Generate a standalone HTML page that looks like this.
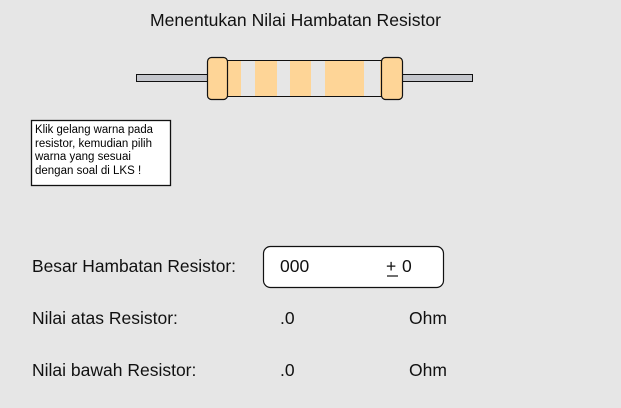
<!DOCTYPE html>
<html><head><meta charset="utf-8"><style>
html,body{margin:0;padding:0;background:#e6e6e6;}
svg{display:block;font-family:"Liberation Sans",Arial,sans-serif;}
</style></head><body>
<svg width="621" height="408" viewBox="0 0 621 408" xmlns="http://www.w3.org/2000/svg">
<rect width="621" height="408" fill="#e6e6e6"/>
<text x="150" y="26" font-size="17.5" textLength="291" lengthAdjust="spacingAndGlyphs" fill="#111">Menentukan Nilai Hambatan Resistor</text>
<!-- leads -->
<rect x="136.5" y="74.5" width="72" height="7" fill="#c4c6cc" stroke="#111" stroke-width="1"/>
<rect x="401.5" y="74.5" width="71" height="7" fill="#c4c6cc" stroke="#111" stroke-width="1"/>
<!-- body -->
<rect x="225.5" y="60.5" width="158" height="36" fill="#fed597" stroke="#111" stroke-width="1"/>
<rect x="241" y="61" width="14" height="35" fill="#e6e6e6"/>
<rect x="277" y="61" width="13" height="35" fill="#e6e6e6"/>
<rect x="311" y="61" width="14" height="35" fill="#e6e6e6"/>
<rect x="364" y="61" width="16" height="35" fill="#e6e6e6"/>
<!-- caps -->
<rect x="207.5" y="57.5" width="20" height="42" rx="4" fill="#fed597" stroke="#111" stroke-width="1.2"/>
<rect x="381.5" y="57.5" width="21" height="42" rx="4" fill="#fed597" stroke="#111" stroke-width="1.2"/>
<!-- note box -->
<rect x="31.5" y="120.5" width="139" height="65" fill="#fff" stroke="#111" stroke-width="1.3"/>
<g font-size="11.5" fill="#000">
<text x="35" y="133" textLength="118" lengthAdjust="spacingAndGlyphs">Klik gelang warna pada</text>
<text x="35" y="147">resistor, kemudian pilih</text>
<text x="35" y="160">warna yang sesuai</text>
<text x="35" y="174">dengan soal di LKS !</text>
</g>
<!-- labels -->
<g font-size="17.5" fill="#111">
<text x="32" y="272" textLength="204" lengthAdjust="spacingAndGlyphs">Besar Hambatan Resistor:</text>
<text x="32" y="324">Nilai atas Resistor:</text>
<text x="32" y="376">Nilai bawah Resistor:</text>
<text x="280" y="324">.0</text>
<text x="409" y="324">Ohm</text>
<text x="280" y="376">.0</text>
<text x="409" y="376">Ohm</text>
</g>
<rect x="263.5" y="246.5" width="180" height="41" rx="7" fill="#fff" stroke="#111" stroke-width="1.2"/>
<g font-size="17.5" fill="#111">
<text x="280" y="272">000</text>
<text x="386" y="272">+</text>
<text x="402" y="272">0</text>
</g>
<line x1="387" y1="276" x2="398" y2="276" stroke="#111" stroke-width="1.2"/>
</svg>
</body></html>
